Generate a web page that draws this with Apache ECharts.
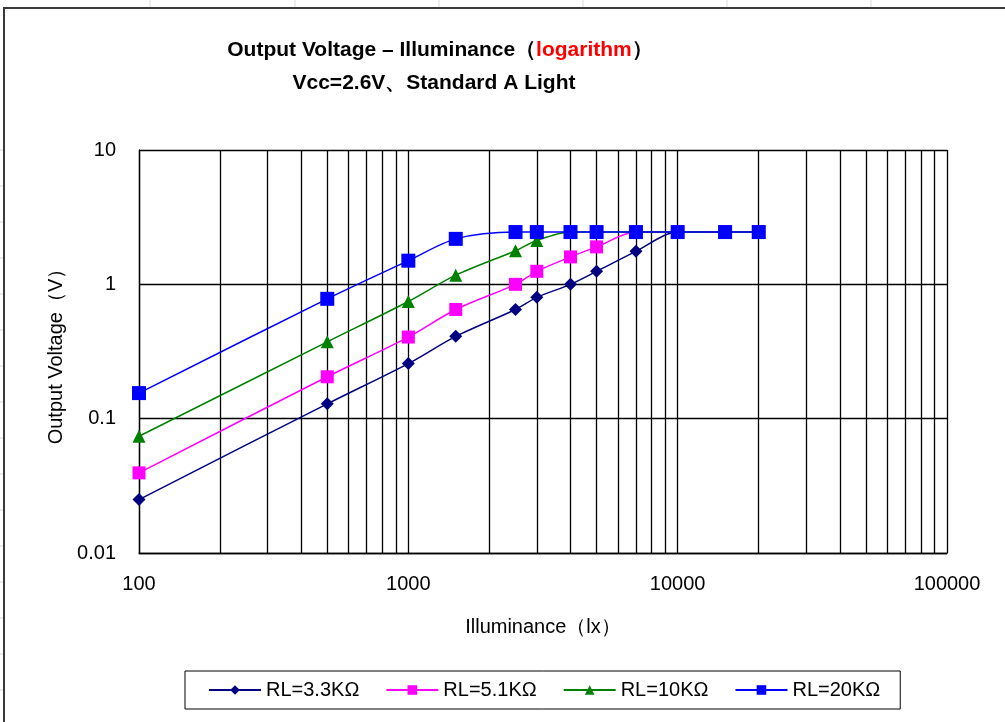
<!DOCTYPE html>
<html>
<head>
<meta charset="utf-8">
<script src="https://cdn.jsdelivr.net/npm/echarts@6/dist/echarts.min.js"></script>
<style>
  html, body { margin: 0; padding: 0; background: #fff; }
  #chart { width: 1005px; height: 722px; }
</style>
</head>
<body>
<div id="chart"></div>
<script>
// Illuminance (lx) at each measurement point
const lux = [100, 500, 1000, 1500, 2500, 3000, 4000, 5000, 7000, 10000, 15000, 20000];

// Output voltage (V) for each load resistor
const rl33 = [0.025, 0.129, 0.257, 0.41, 0.65, 0.80, 1.0, 1.25, 1.76, 2.45, 2.45, 2.45];
const rl51 = [0.0395, 0.205, 0.405, 0.65, 1.0, 1.25, 1.6, 1.9, 2.45, 2.45, 2.45, 2.45];
const rl10 = [0.074, 0.373, 0.745, 1.17, 1.78, 2.12, 2.45, 2.45, 2.45, 2.45, 2.45, 2.45];
const rl20 = [0.155, 0.78, 1.5, 2.18, 2.45, 2.45, 2.45, 2.45, 2.45, 2.45, 2.45, 2.45];

const seriesNames = ['RL=3.3KΩ', 'RL=5.1KΩ', 'RL=10KΩ', 'RL=20KΩ'];

// Axis tick labels
const xTickLabels = { 100: '100', 1000: '1000', 10000: '10000', 100000: '100000' };
const yTickLabels = ['0.01', '0.1', '1', '10'];

// Minor vertical grid lines (2..9 within each decade)
const decades = [100, 1000, 10000];
const minorX = [];
decades.forEach(d => { for (let k = 2; k <= 9; k++) minorX.push(d * k); });

const FONT = "'Liberation Sans', Arial, sans-serif";
const GRID_W = 1.3;

function pairs(ys) { return lux.map((x, i) => [x, ys[i]]); }

function makeSeries(name, ys, color, symbol, size) {
  return {
    name: name,
    type: 'line',
    data: pairs(ys),
    smooth: 0.3,
    symbol: symbol,
    symbolSize: size,
    itemStyle: { color: color },
    lineStyle: { color: color, width: 1.5 },
    emphasis: { disabled: true },
    animation: false
  };
}

const series = [
  makeSeries(seriesNames[0], rl33, '#000080', 'diamond', 13),
  makeSeries(seriesNames[1], rl51, '#ff00ff', 'rect', 13),
  makeSeries(seriesNames[2], rl10, '#008000', 'triangle', 13),
  makeSeries(seriesNames[3], rl20, '#0000ff', 'rect', 14)
];

// Minor vertical grid lines drawn through the x scale
series[0].markLine = {
  silent: true,
  symbol: ['none', 'none'],
  label: { show: false },
  lineStyle: { color: '#000', width: GRID_W, type: 'solid' },
  emphasis: { disabled: true },
  animation: false,
  z: 1,
  data: minorX.map(v => ({ xAxis: v }))
};

// Faint worksheet cell lines around the chart frame
const sheetLines = [];
[150, 295, 439, 583, 727, 871].forEach(x => sheetLines.push({
  type: 'line', shape: { x1: x, y1: 0, x2: x, y2: 7 },
  style: { stroke: '#d6dbe6', lineWidth: 1 }, silent: true
}));
for (let y = 150; y < 722; y += 36) sheetLines.push({
  type: 'line', shape: { x1: 0, y1: y, x2: 3, y2: y },
  style: { stroke: '#d6dbe6', lineWidth: 1 }, silent: true
});

const chart = echarts.init(document.getElementById('chart'), null, { renderer: 'canvas' });
chart.setOption({
  backgroundColor: '#fff',
  animation: false,
  textStyle: { fontFamily: FONT },
  title: [
    {
      text: '{a|Output Voltage – Illuminance（}{r|logarithm}{a|）}',
      left: 440, top: 40, textAlign: 'center', padding: 0,
      textStyle: {
        rich: {
          a: { fontSize: 21, fontWeight: 'bold', color: '#000', fontFamily: FONT },
          r: { fontSize: 21, fontWeight: 'bold', color: '#ff0000', fontFamily: FONT }
        }
      }
    },
    {
      text: 'Vcc=2.6V、Standard A Light',
      left: 434, top: 73, textAlign: 'center', padding: 0,
      textStyle: { fontSize: 21, fontWeight: 'bold', color: '#000', fontFamily: FONT }
    }
  ],
  graphic: [
    ...sheetLines,
    {
      type: 'rect', shape: { x: 4, y: 8, width: 1100, height: 800 },
      style: { fill: 'none', stroke: '#3a3a3a', lineWidth: 2 }, silent: true, z: 10
    }
  ],
  grid: { left: 139, right: 58, top: 150, bottom: 169, containLabel: false },
  legend: {
    data: seriesNames,
    left: 185, top: 671,
    orient: 'horizontal',
    padding: [9, 20, 9, 23],
    borderColor: '#000', borderWidth: 1,
    itemGap: 26, itemWidth: 52, itemHeight: 12,
    textStyle: { fontSize: 20, color: '#000', fontFamily: FONT },
    selectedMode: false
  },
  xAxis: {
    type: 'log', logBase: 10, min: 100, max: 100000,
    name: 'Illuminance（lx）',
    nameLocation: 'middle', nameGap: 64,
    nameTextStyle: { fontSize: 20, color: '#000', fontFamily: FONT },
    axisLine: { show: true, lineStyle: { color: '#000', width: GRID_W } },
    axisTick: { show: false },
    axisLabel: {
      fontSize: 20, color: '#000', margin: 21, fontFamily: FONT,
      formatter: v => xTickLabels[Math.round(v)] || ''
    },
    splitLine: { show: true, lineStyle: { color: '#000', width: GRID_W } },
    minorTick: { show: false }, minorSplitLine: { show: false }
  },
  yAxis: {
    type: 'log', logBase: 10, min: 0.01, max: 10,
    name: 'Output Voltage（V）',
    nameLocation: 'middle', nameGap: 70, nameRotate: 90,
    nameTextStyle: { fontSize: 20, color: '#000', fontFamily: FONT },
    axisLine: { show: true, lineStyle: { color: '#000', width: GRID_W } },
    axisTick: { show: false },
    axisLabel: {
      fontSize: 20, color: '#000', margin: 23, fontFamily: FONT,
      formatter: v => yTickLabels[Math.round(Math.log10(v)) + 2] || ''
    },
    splitLine: { show: true, lineStyle: { color: '#000', width: GRID_W } }
  },
  series: series
});
</script>
</body>
</html>
